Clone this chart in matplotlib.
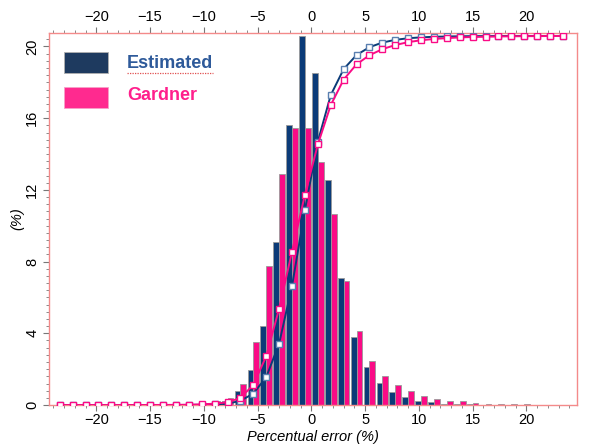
import numpy as np
import matplotlib
matplotlib.use("Agg")
import matplotlib.pyplot as plt
from matplotlib.ticker import MultipleLocator
from matplotlib.patches import Rectangle
from matplotlib.lines import Line2D

plt.rcParams['font.family'] = ['Liberation Sans', 'DejaVu Sans']

# bin centres (percentual error, %)
bin_centers = [-23.4, -22.2, -21.0, -19.8, -18.6, -17.4, -16.2, -15.0, -13.8, -12.6,
               -11.4, -10.2, -9.0, -7.8, -6.6, -5.4, -4.2, -3.0, -1.8, -0.6,
               0.6, 1.8, 3.0, 4.2, 5.4, 6.6, 7.8, 9.0, 10.2, 11.4,
               12.6, 13.8, 15.0, 16.2, 17.4, 18.6, 19.8, 21.0, 22.2, 23.4]

estimated = [0.0, 0.0, 0.0, 0.0, 0.0, 0.0, 0.0, 0.0, 0.0, 0.01,
             0.02, 0.05, 0.09, 0.20, 0.76, 1.97, 4.43, 9.11, 15.60, 20.58,
             18.53, 12.55, 7.06, 3.81, 2.12, 1.25, 0.74, 0.43, 0.25, 0.15,
             0.08, 0.06, 0.03, 0.02, 0.01, 0.01, 0.0, 0.0, 0.0, 0.0]

gardner = [0.0, 0.0, 0.0, 0.0, 0.0, 0.0, 0.0, 0.01, 0.01, 0.02,
           0.04, 0.09, 0.20, 0.37, 1.19, 3.50, 7.76, 12.87, 15.43, 15.43,
           13.53, 10.63, 6.92, 4.13, 2.45, 1.64, 1.12, 0.78, 0.51, 0.35,
           0.22, 0.20, 0.11, 0.08, 0.06, 0.05, 0.03, 0.02, 0.02, 0.01]

series_names = ["Estimated", "Gardner"]

x = np.array(bin_centers)
est = np.array(estimated)
gar = np.array(gardner)
cum_est = np.cumsum(est) / est.sum() * 100
cum_gar = np.cumsum(gar) / gar.sum() * 100

BLUE = '#0b3b78'
PINK = '#fa0b86'
SPINE = '#f48a8a'
TICK = '#777777'

fig = plt.figure(figsize=(6.05, 4.44), dpi=100)
ax = fig.add_axes([0.081, 0.0878, 0.8727, 0.8386])

w = 0.54
ax.bar(x - w / 2, est, width=w, color=BLUE, edgecolor='#9a9a9a', linewidth=0.6, zorder=2)
ax.bar(x + w / 2, gar, width=w, color=PINK, edgecolor='#9a9a9a', linewidth=0.6, zorder=2)

ax.set_xlim(-24.4, 24.7)
ax.set_ylim(0, 20.77)

for s in ax.spines.values():
    s.set_color(SPINE)
    s.set_linewidth(1.0)

ax.xaxis.set_major_locator(MultipleLocator(5))
ax.xaxis.set_minor_locator(MultipleLocator(1))
ax.yaxis.set_major_locator(MultipleLocator(4))
ax.yaxis.set_minor_locator(MultipleLocator(0.4))
ax.tick_params(axis='both', which='major', direction='out', length=4, width=0.8, color=TICK,
               labelsize=10.5, pad=2, top=True, labeltop=True, bottom=True, labelbottom=True)
ax.tick_params(axis='both', which='minor', direction='out', length=2, width=0.6, color=TICK,
               top=True, bottom=True)
ax.tick_params(axis='y', which='both', right=True, labelright=True, left=True, labelleft=True)
ax.tick_params(axis='y', which='major', pad=3)
for t in ax.yaxis.get_major_ticks():
    t.label1.set_rotation(90)
    t.label1.set_va('center')
    t.label2.set_rotation(-90)
    t.label2.set_va('center')

ax.set_xlabel("Percentual error (%)", style='italic', fontsize=10.5, labelpad=2)
ax.set_ylabel("(%)", style='italic', fontsize=10.5, labelpad=1)

# cumulative curves (0-100 % scale, drawn on an invisible twin axis)
ax2 = ax.twinx()
ax2.set_ylim(0, 100.9)
ax2.plot(x, cum_est, color=BLUE, lw=1.4, marker='s', ms=4, mfc='white', mec='#5a7fb0', mew=1.0, zorder=3)
ax2.plot(x, cum_gar, color=PINK, lw=1.4, marker='s', ms=4, mfc='white', mec=PINK, mew=1.0, zorder=3)
ax2.set_yticks([])
ax2.tick_params(right=False, labelright=False)
ax2.set_axis_off()

# legend
fig.patches.append(Rectangle((64 / 605, 1 - 73 / 444), 44 / 605, 21 / 444, transform=fig.transFigure,
                             facecolor='#1e3a5f', edgecolor='#b0b0b0', lw=0.6, zorder=5))
fig.patches.append(Rectangle((64 / 605, 1 - 108 / 444), 44 / 605, 21 / 444, transform=fig.transFigure,
                             facecolor='#ff2a8f', edgecolor='#f7a0c8', lw=0.6, zorder=5))
fig.text(127 / 605, 1 - 63 / 444, series_names[0], color='#2e5a9a', fontsize=13, fontweight='bold',
         va='center', ha='left')
fig.text(127 / 605, 1 - 96 / 444, series_names[1], color='#ff1f8c', fontsize=13, fontweight='bold',
         va='center', ha='left')
fig.lines.append(Line2D([127 / 605, 213 / 605], [1 - 73 / 444, 1 - 73 / 444], transform=fig.transFigure,
                        color='#e05050', lw=0.9, ls=(0, (1, 1))))

fig.savefig("out.png", dpi=100)
